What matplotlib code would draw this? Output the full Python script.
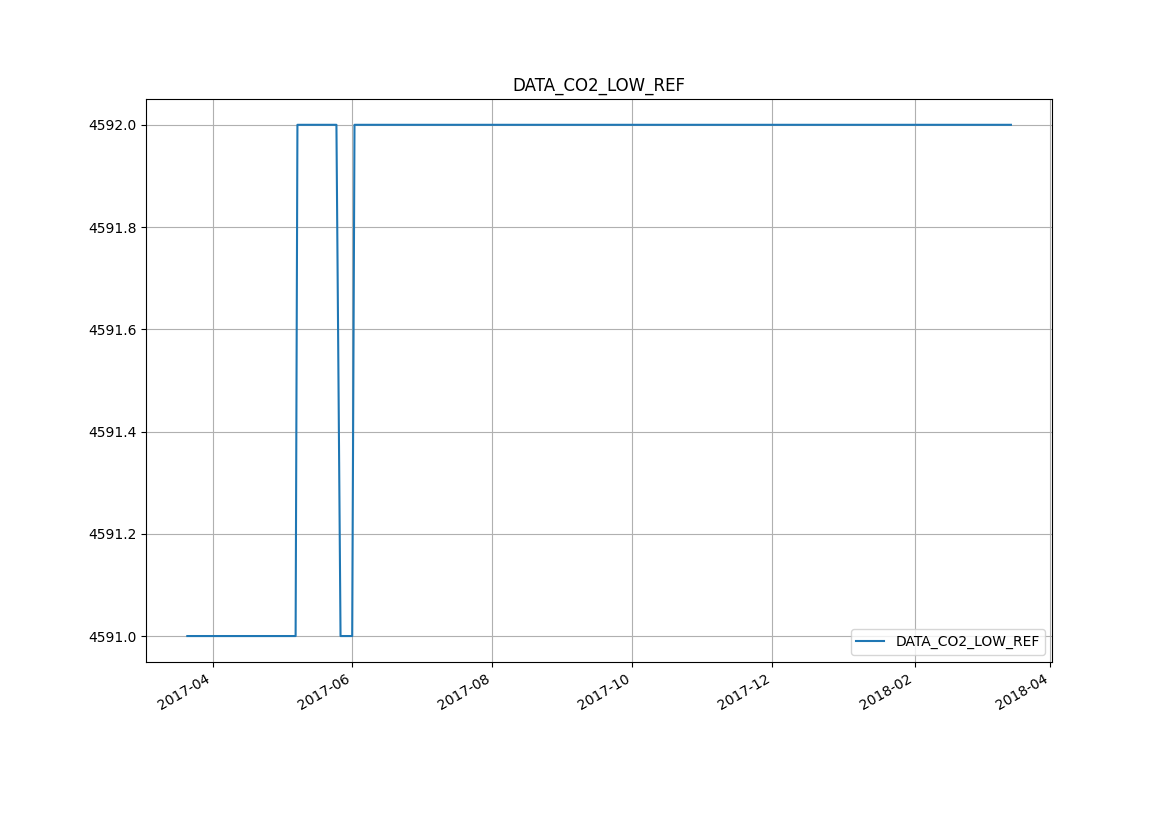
import pandas as pd
import matplotlib
matplotlib.use("Agg")
import matplotlib.pyplot as plt
import matplotlib.dates as mdates

# breakpoints
dates = ["2017-03-21 00:00", "2017-05-07 05:00", "2017-05-08 00:00", "2017-05-25 00:00",
         "2017-05-26 19:00", "2017-05-31 21:00", "2017-06-01 21:00", "2018-03-15 00:00"]
values = [4591, 4591, 4592, 4592, 4591, 4591, 4592, 4592]

series = pd.Series(values, index=pd.to_datetime(dates, format="%Y-%m-%d %H:%M"),
                   name="DATA_CO2_LOW_REF")

fig, ax = plt.subplots(figsize=(11.69, 8.27), dpi=100)
ax.plot(series.index, series.values, label="DATA_CO2_LOW_REF")
ax.set_title("DATA_CO2_LOW_REF")
ax.grid(True)
ax.legend(loc="lower right")
ax.ticklabel_format(axis="y", useOffset=False)
ax.xaxis.set_major_locator(mdates.MonthLocator(bymonth=[2, 4, 6, 8, 10, 12]))
ax.xaxis.set_major_formatter(mdates.DateFormatter("%Y-%m"))
fig.autofmt_xdate()

plt.savefig("out.png")
